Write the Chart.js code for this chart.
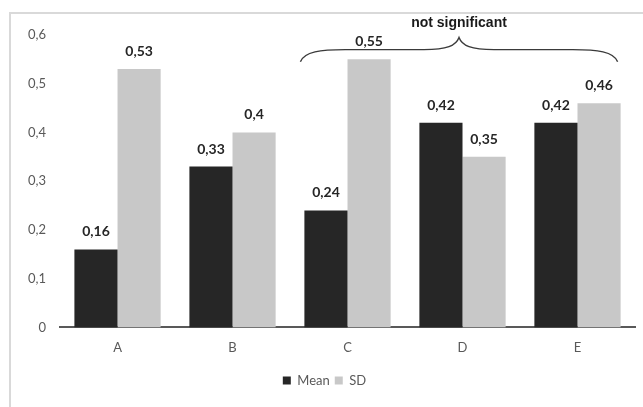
<!DOCTYPE html>
<html><head><meta charset="utf-8">
<script src="https://cdn.jsdelivr.net/npm/chart.js@4"></script>
<style>
html,body{margin:0;padding:0;background:#fff;}
#wrap{position:absolute;left:0;top:0;width:643px;height:407px;}
#frame{position:absolute;left:9px;top:12px;right:0;bottom:0;border-left:2px solid #d9d9d9;border-top:2px solid #d9d9d9;}
canvas{position:absolute;left:0;top:0;}
</style></head>
<body>
<div id="wrap"><div id="frame"></div><canvas id="c" width="643" height="407"></canvas></div>
<script>
const categories = ["A","B","C","D","E"];
const meanValues = [0.16,0.33,0.24,0.42,0.42];
const sdValues = [0.53,0.40,0.55,0.35,0.46];
const yTicks = [0,0.1,0.2,0.3,0.4,0.5,0.6];
const braceText = "not significant";
const braceFrom = "C", braceTo = "E";

const fmt = v => String(Math.round(v*100)/100).replace('.', ',');
const FONT = 'Lato, "Open Sans", sans-serif';

const labelPlugin = {
  id:'labels',
  afterDatasetsDraw(chart){
    const ctx = chart.ctx;
    const ys = chart.scales.y;
    ctx.save();
    ctx.font = 'bold 14px ' + FONT;
    ctx.fillStyle = '#262626';
    ctx.textAlign = 'center';
    ctx.textBaseline = 'alphabetic';
    chart.data.datasets.forEach((ds,i)=>{
      chart.getDatasetMeta(i).data.forEach((bar,j)=>{
        ctx.fillText(fmt(ds.data[j]), bar.x, bar.y - 13);
      });
    });
    // brace spanning categories C..E
    const m1 = chart.getDatasetMeta(0).data, m2 = chart.getDatasetMeta(1).data;
    const i1 = categories.indexOf(braceFrom), i2 = categories.indexOf(braceTo);
    const x1 = m1[i1].x - m1[i1].width/2 - 4;
    const x2 = m2[i2].x + m2[i2].width/2 - 3;
    const yb = ys.getPixelForValue(0.545);
    const ym = ys.getPixelForValue(0.570);
    const yt = ys.getPixelForValue(0.595);
    const xm = (x1+x2)/2;
    ctx.strokeStyle = '#3a3a3a';
    ctx.lineWidth = 1.4;
    ctx.beginPath();
    ctx.moveTo(x1, yb);
    ctx.bezierCurveTo(x1+4, ym+2, x1+20, ym, x1+45, ym);
    ctx.lineTo(xm-35, ym);
    ctx.bezierCurveTo(xm-12, ym, xm-3, ym-4, xm, yt);
    ctx.bezierCurveTo(xm+3, ym-4, xm+12, ym, xm+35, ym);
    ctx.lineTo(x2-45, ym);
    ctx.bezierCurveTo(x2-20, ym, x2-4, ym+2, x2, yb);
    ctx.stroke();
    ctx.font = 'bold 14px "Liberation Sans", Arial, sans-serif';
    ctx.fillStyle = '#1a1a1a';
    ctx.fillText(braceText, xm, ys.getPixelForValue(0.616));
    ctx.restore();
  }
};

new Chart(document.getElementById('c'), {
  type:'bar',
  data:{
    labels:categories,
    datasets:[
      {label:'Mean', data:meanValues, backgroundColor:'#262626', categoryPercentage:0.75, barPercentage:1.0},
      {label:'SD', data:sdValues, backgroundColor:'#c8c8c8', categoryPercentage:0.75, barPercentage:1.0}
    ]
  },
  options:{
    responsive:false, animation:false,
    devicePixelRatio:1,
    layout:{padding:{left:14,right:8,top:35,bottom:10}},
    plugins:{
      legend:{position:'bottom', labels:{boxWidth:8,boxHeight:8,color:'#595959',font:{size:13,family:FONT},padding:5}},
      tooltip:{enabled:false}
    },
    scales:{
      x:{grid:{display:false,drawTicks:false}, border:{display:true,color:'#595959',width:2},
         ticks:{color:'#595959',padding:13,font:{size:13,family:FONT}}},
      y:{min:0,max:0.6, afterBuildTicks(s){s.ticks = yTicks.map(v=>({value:v}));},
         grid:{display:false,drawTicks:false}, border:{display:false},
         ticks:{color:'#595959',padding:14,font:{size:13,family:FONT}, callback:v=>fmt(v)}}
    }
  },
  plugins:[labelPlugin]
});
</script>
</body></html>
